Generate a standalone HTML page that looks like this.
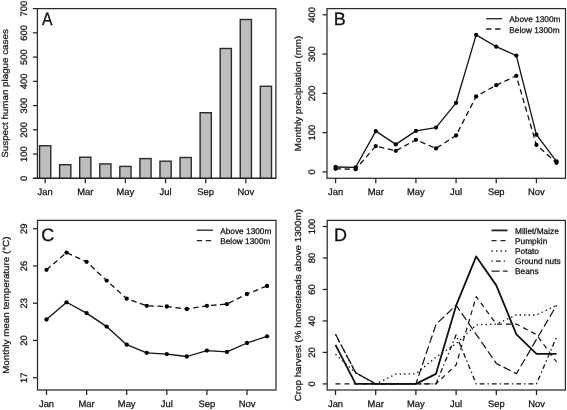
<!DOCTYPE html>
<html><head><meta charset="utf-8"><style>
html,body{margin:0;padding:0;background:#fff;}
body{width:567px;height:410px;overflow:hidden;}
svg{display:block;font-family:"Liberation Sans", sans-serif;text-rendering:geometricPrecision;will-change:transform;}
</style></head><body>
<svg width="567" height="410" viewBox="0 0 567 410">
<rect width="567" height="410" fill="#fff"/>
<rect x="37.40" y="8.60" width="238.50" height="169.70" fill="none" stroke="#2a2a2a" stroke-width="1.25"/>
<line x1="32.90" y1="178.30" x2="37.40" y2="178.30" stroke="#222" stroke-width="1.25"/>
<text x="26.70" y="178.30" font-size="9.4" text-anchor="middle" fill="#111" stroke="#111" stroke-width="0.25" transform="rotate(-90 26.70 178.30)">0</text>
<line x1="32.90" y1="154.06" x2="37.40" y2="154.06" stroke="#222" stroke-width="1.25"/>
<text x="26.70" y="154.06" font-size="9.4" text-anchor="middle" fill="#111" stroke="#111" stroke-width="0.25" transform="rotate(-90 26.70 154.06)">100</text>
<line x1="32.90" y1="129.81" x2="37.40" y2="129.81" stroke="#222" stroke-width="1.25"/>
<text x="26.70" y="129.81" font-size="9.4" text-anchor="middle" fill="#111" stroke="#111" stroke-width="0.25" transform="rotate(-90 26.70 129.81)">200</text>
<line x1="32.90" y1="105.57" x2="37.40" y2="105.57" stroke="#222" stroke-width="1.25"/>
<text x="26.70" y="105.57" font-size="9.4" text-anchor="middle" fill="#111" stroke="#111" stroke-width="0.25" transform="rotate(-90 26.70 105.57)">300</text>
<line x1="32.90" y1="81.33" x2="37.40" y2="81.33" stroke="#222" stroke-width="1.25"/>
<text x="26.70" y="81.33" font-size="9.4" text-anchor="middle" fill="#111" stroke="#111" stroke-width="0.25" transform="rotate(-90 26.70 81.33)">400</text>
<line x1="32.90" y1="57.09" x2="37.40" y2="57.09" stroke="#222" stroke-width="1.25"/>
<text x="26.70" y="57.09" font-size="9.4" text-anchor="middle" fill="#111" stroke="#111" stroke-width="0.25" transform="rotate(-90 26.70 57.09)">500</text>
<line x1="32.90" y1="32.84" x2="37.40" y2="32.84" stroke="#222" stroke-width="1.25"/>
<text x="26.70" y="32.84" font-size="9.4" text-anchor="middle" fill="#111" stroke="#111" stroke-width="0.25" transform="rotate(-90 26.70 32.84)">600</text>
<line x1="32.90" y1="8.60" x2="37.40" y2="8.60" stroke="#222" stroke-width="1.25"/>
<text x="26.70" y="8.60" font-size="9.4" text-anchor="middle" fill="#111" stroke="#111" stroke-width="0.25" transform="rotate(-90 26.70 8.60)">700</text>
<rect x="39.55" y="145.70" width="11.2" height="32.60" fill="#bebebe" stroke="#2a2a2a" stroke-width="1.4"/>
<rect x="59.62" y="164.70" width="11.2" height="13.60" fill="#bebebe" stroke="#2a2a2a" stroke-width="1.4"/>
<rect x="79.69" y="157.20" width="11.2" height="21.10" fill="#bebebe" stroke="#2a2a2a" stroke-width="1.4"/>
<rect x="99.76" y="163.90" width="11.2" height="14.40" fill="#bebebe" stroke="#2a2a2a" stroke-width="1.4"/>
<rect x="119.83" y="166.40" width="11.2" height="11.90" fill="#bebebe" stroke="#2a2a2a" stroke-width="1.4"/>
<rect x="139.90" y="158.60" width="11.2" height="19.70" fill="#bebebe" stroke="#2a2a2a" stroke-width="1.4"/>
<rect x="159.97" y="161.20" width="11.2" height="17.10" fill="#bebebe" stroke="#2a2a2a" stroke-width="1.4"/>
<rect x="180.04" y="157.50" width="11.2" height="20.80" fill="#bebebe" stroke="#2a2a2a" stroke-width="1.4"/>
<rect x="200.11" y="112.70" width="11.2" height="65.60" fill="#bebebe" stroke="#2a2a2a" stroke-width="1.4"/>
<rect x="220.18" y="48.50" width="11.2" height="129.80" fill="#bebebe" stroke="#2a2a2a" stroke-width="1.4"/>
<rect x="240.25" y="19.50" width="11.2" height="158.80" fill="#bebebe" stroke="#2a2a2a" stroke-width="1.4"/>
<rect x="260.32" y="86.30" width="11.2" height="92.00" fill="#bebebe" stroke="#2a2a2a" stroke-width="1.4"/>
<line x1="32.90" y1="178.30" x2="275.90" y2="178.30" stroke="#222" stroke-width="1.25"/>
<line x1="45.15" y1="178.30" x2="45.15" y2="183.30" stroke="#222" stroke-width="1.25"/>
<line x1="85.29" y1="178.30" x2="85.29" y2="183.30" stroke="#222" stroke-width="1.25"/>
<line x1="125.43" y1="178.30" x2="125.43" y2="183.30" stroke="#222" stroke-width="1.25"/>
<line x1="165.57" y1="178.30" x2="165.57" y2="183.30" stroke="#222" stroke-width="1.25"/>
<line x1="205.71" y1="178.30" x2="205.71" y2="183.30" stroke="#222" stroke-width="1.25"/>
<line x1="245.85" y1="178.30" x2="245.85" y2="183.30" stroke="#222" stroke-width="1.25"/>
<text x="45.15" y="195.20" font-size="9.4" text-anchor="middle" fill="#111" stroke="#111" stroke-width="0.25">Jan</text>
<text x="85.29" y="195.20" font-size="9.4" text-anchor="middle" fill="#111" stroke="#111" stroke-width="0.25">Mar</text>
<text x="125.43" y="195.20" font-size="9.4" text-anchor="middle" fill="#111" stroke="#111" stroke-width="0.25">May</text>
<text x="165.57" y="195.20" font-size="9.4" text-anchor="middle" fill="#111" stroke="#111" stroke-width="0.25">Jul</text>
<text x="205.71" y="195.20" font-size="9.4" text-anchor="middle" fill="#111" stroke="#111" stroke-width="0.25">Sep</text>
<text x="245.85" y="195.20" font-size="9.4" text-anchor="middle" fill="#111" stroke="#111" stroke-width="0.25">Nov</text>
<text x="0.00" y="0.00" font-size="9.8" text-anchor="middle" fill="#111" stroke="#111" stroke-width="0.25" transform="translate(7.80 93.45) rotate(-90) scale(1 0.9)">Suspect human plague cases</text>
<text x="0" y="0" font-size="18" fill="#111" stroke="#111" stroke-width="0.3" transform="translate(41.9 25.0) scale(0.87 1)">A</text>
<rect x="327.00" y="8.60" width="238.50" height="169.70" fill="none" stroke="#2a2a2a" stroke-width="1.25"/>
<line x1="322.50" y1="171.90" x2="327.00" y2="171.90" stroke="#222" stroke-width="1.25"/>
<text x="315.40" y="171.90" font-size="9.4" text-anchor="middle" fill="#111" stroke="#111" stroke-width="0.25" transform="rotate(-90 315.40 171.90)">0</text>
<line x1="322.50" y1="132.62" x2="327.00" y2="132.62" stroke="#222" stroke-width="1.25"/>
<text x="315.40" y="132.62" font-size="9.4" text-anchor="middle" fill="#111" stroke="#111" stroke-width="0.25" transform="rotate(-90 315.40 132.62)">100</text>
<line x1="322.50" y1="93.35" x2="327.00" y2="93.35" stroke="#222" stroke-width="1.25"/>
<text x="315.40" y="93.35" font-size="9.4" text-anchor="middle" fill="#111" stroke="#111" stroke-width="0.25" transform="rotate(-90 315.40 93.35)">200</text>
<line x1="322.50" y1="54.08" x2="327.00" y2="54.08" stroke="#222" stroke-width="1.25"/>
<text x="315.40" y="54.08" font-size="9.4" text-anchor="middle" fill="#111" stroke="#111" stroke-width="0.25" transform="rotate(-90 315.40 54.08)">300</text>
<line x1="322.50" y1="14.80" x2="327.00" y2="14.80" stroke="#222" stroke-width="1.25"/>
<text x="315.40" y="14.80" font-size="9.4" text-anchor="middle" fill="#111" stroke="#111" stroke-width="0.25" transform="rotate(-90 315.40 14.80)">400</text>
<line x1="335.60" y1="178.30" x2="335.60" y2="183.30" stroke="#222" stroke-width="1.25"/>
<line x1="375.76" y1="178.30" x2="375.76" y2="183.30" stroke="#222" stroke-width="1.25"/>
<line x1="415.92" y1="178.30" x2="415.92" y2="183.30" stroke="#222" stroke-width="1.25"/>
<line x1="456.08" y1="178.30" x2="456.08" y2="183.30" stroke="#222" stroke-width="1.25"/>
<line x1="496.24" y1="178.30" x2="496.24" y2="183.30" stroke="#222" stroke-width="1.25"/>
<line x1="536.40" y1="178.30" x2="536.40" y2="183.30" stroke="#222" stroke-width="1.25"/>
<text x="335.60" y="195.20" font-size="9.4" text-anchor="middle" fill="#111" stroke="#111" stroke-width="0.25">Jan</text>
<text x="375.76" y="195.20" font-size="9.4" text-anchor="middle" fill="#111" stroke="#111" stroke-width="0.25">Mar</text>
<text x="415.92" y="195.20" font-size="9.4" text-anchor="middle" fill="#111" stroke="#111" stroke-width="0.25">May</text>
<text x="456.08" y="195.20" font-size="9.4" text-anchor="middle" fill="#111" stroke="#111" stroke-width="0.25">Jul</text>
<text x="496.24" y="195.20" font-size="9.4" text-anchor="middle" fill="#111" stroke="#111" stroke-width="0.25">Sep</text>
<text x="536.40" y="195.20" font-size="9.4" text-anchor="middle" fill="#111" stroke="#111" stroke-width="0.25">Nov</text>
<polyline points="335.60,167.00 355.68,167.30 375.76,131.10 395.84,144.40 415.92,130.90 436.00,127.60 456.08,102.80 476.16,34.90 496.24,46.70 516.32,55.60 536.40,134.70 556.48,161.30" fill="none" stroke="#111" stroke-width="1.3" stroke-linejoin="round" stroke-linecap="butt"/>
<polyline points="335.60,168.80 355.68,169.20 375.76,146.10 395.84,150.80 415.92,139.80 436.00,148.40 456.08,135.50 476.16,96.40 496.24,85.20 516.32,75.80 536.40,144.90 556.48,162.80" fill="none" stroke="#111" stroke-width="1.3" stroke-linejoin="round" stroke-linecap="butt" stroke-dasharray="5.4,3.6"/>
<circle cx="335.60" cy="167.00" r="2.15" fill="#000"/>
<circle cx="355.68" cy="167.30" r="2.15" fill="#000"/>
<circle cx="375.76" cy="131.10" r="2.15" fill="#000"/>
<circle cx="395.84" cy="144.40" r="2.15" fill="#000"/>
<circle cx="415.92" cy="130.90" r="2.15" fill="#000"/>
<circle cx="436.00" cy="127.60" r="2.15" fill="#000"/>
<circle cx="456.08" cy="102.80" r="2.15" fill="#000"/>
<circle cx="476.16" cy="34.90" r="2.15" fill="#000"/>
<circle cx="496.24" cy="46.70" r="2.15" fill="#000"/>
<circle cx="516.32" cy="55.60" r="2.15" fill="#000"/>
<circle cx="536.40" cy="134.70" r="2.15" fill="#000"/>
<circle cx="556.48" cy="161.30" r="2.15" fill="#000"/>
<circle cx="335.60" cy="168.80" r="2.15" fill="#000"/>
<circle cx="355.68" cy="169.20" r="2.15" fill="#000"/>
<circle cx="375.76" cy="146.10" r="2.15" fill="#000"/>
<circle cx="395.84" cy="150.80" r="2.15" fill="#000"/>
<circle cx="415.92" cy="139.80" r="2.15" fill="#000"/>
<circle cx="436.00" cy="148.40" r="2.15" fill="#000"/>
<circle cx="456.08" cy="135.50" r="2.15" fill="#000"/>
<circle cx="476.16" cy="96.40" r="2.15" fill="#000"/>
<circle cx="496.24" cy="85.20" r="2.15" fill="#000"/>
<circle cx="516.32" cy="75.80" r="2.15" fill="#000"/>
<circle cx="536.40" cy="144.90" r="2.15" fill="#000"/>
<circle cx="556.48" cy="162.80" r="2.15" fill="#000"/>
<text x="0.00" y="0.00" font-size="9.8" text-anchor="middle" fill="#111" stroke="#111" stroke-width="0.25" transform="translate(301.30 93.45) rotate(-90) scale(1 0.9)">Monthly precipitation (mm)</text>
<text x="333.80" y="25.00" font-size="18" fill="#111" stroke="#111" stroke-width="0.3">B</text>
<line x1="486.10" y1="18.70" x2="502.20" y2="18.70" stroke="#222" stroke-width="1.3"/>
<line x1="486.10" y1="29.00" x2="502.20" y2="29.00" stroke="#222" stroke-width="1.3" stroke-dasharray="5.4,3.6"/>
<text x="509.30" y="22.10" font-size="8.3" text-anchor="start" fill="#111" stroke="#111" stroke-width="0.25">Above 1300m</text>
<text x="509.30" y="32.60" font-size="8.3" text-anchor="start" fill="#111" stroke="#111" stroke-width="0.25">Below 1300m</text>
<rect x="37.50" y="220.40" width="238.50" height="169.60" fill="none" stroke="#2a2a2a" stroke-width="1.25"/>
<line x1="33.00" y1="377.70" x2="37.50" y2="377.70" stroke="#222" stroke-width="1.25"/>
<text x="26.70" y="377.70" font-size="9.4" text-anchor="middle" fill="#111" stroke="#111" stroke-width="0.25" transform="rotate(-90 26.70 377.70)">17</text>
<line x1="33.00" y1="340.45" x2="37.50" y2="340.45" stroke="#222" stroke-width="1.25"/>
<text x="26.70" y="340.45" font-size="9.4" text-anchor="middle" fill="#111" stroke="#111" stroke-width="0.25" transform="rotate(-90 26.70 340.45)">20</text>
<line x1="33.00" y1="303.20" x2="37.50" y2="303.20" stroke="#222" stroke-width="1.25"/>
<text x="26.70" y="303.20" font-size="9.4" text-anchor="middle" fill="#111" stroke="#111" stroke-width="0.25" transform="rotate(-90 26.70 303.20)">23</text>
<line x1="33.00" y1="265.95" x2="37.50" y2="265.95" stroke="#222" stroke-width="1.25"/>
<text x="26.70" y="265.95" font-size="9.4" text-anchor="middle" fill="#111" stroke="#111" stroke-width="0.25" transform="rotate(-90 26.70 265.95)">26</text>
<line x1="33.00" y1="228.70" x2="37.50" y2="228.70" stroke="#222" stroke-width="1.25"/>
<text x="26.70" y="228.70" font-size="9.4" text-anchor="middle" fill="#111" stroke="#111" stroke-width="0.25" transform="rotate(-90 26.70 228.70)">29</text>
<line x1="46.50" y1="390.00" x2="46.50" y2="395.00" stroke="#222" stroke-width="1.25"/>
<line x1="86.60" y1="390.00" x2="86.60" y2="395.00" stroke="#222" stroke-width="1.25"/>
<line x1="126.70" y1="390.00" x2="126.70" y2="395.00" stroke="#222" stroke-width="1.25"/>
<line x1="166.80" y1="390.00" x2="166.80" y2="395.00" stroke="#222" stroke-width="1.25"/>
<line x1="206.90" y1="390.00" x2="206.90" y2="395.00" stroke="#222" stroke-width="1.25"/>
<line x1="247.00" y1="390.00" x2="247.00" y2="395.00" stroke="#222" stroke-width="1.25"/>
<text x="46.50" y="407.00" font-size="9.4" text-anchor="middle" fill="#111" stroke="#111" stroke-width="0.25">Jan</text>
<text x="86.60" y="407.00" font-size="9.4" text-anchor="middle" fill="#111" stroke="#111" stroke-width="0.25">Mar</text>
<text x="126.70" y="407.00" font-size="9.4" text-anchor="middle" fill="#111" stroke="#111" stroke-width="0.25">May</text>
<text x="166.80" y="407.00" font-size="9.4" text-anchor="middle" fill="#111" stroke="#111" stroke-width="0.25">Jul</text>
<text x="206.90" y="407.00" font-size="9.4" text-anchor="middle" fill="#111" stroke="#111" stroke-width="0.25">Sep</text>
<text x="247.00" y="407.00" font-size="9.4" text-anchor="middle" fill="#111" stroke="#111" stroke-width="0.25">Nov</text>
<polyline points="46.50,319.50 66.55,302.30 86.60,313.10 106.65,326.60 126.70,344.70 146.75,352.80 166.80,354.10 186.85,356.50 206.90,350.60 226.95,351.90 247.00,343.00 267.05,336.30" fill="none" stroke="#111" stroke-width="1.3" stroke-linejoin="round" stroke-linecap="butt"/>
<polyline points="46.50,269.80 66.55,252.60 86.60,261.80 106.65,280.60 126.70,298.70 146.75,305.80 166.80,306.50 186.85,309.00 206.90,305.80 226.95,304.10 247.00,294.00 267.05,286.00" fill="none" stroke="#111" stroke-width="1.3" stroke-linejoin="round" stroke-linecap="butt" stroke-dasharray="5.4,3.6"/>
<circle cx="46.50" cy="319.50" r="2.15" fill="#000"/>
<circle cx="66.55" cy="302.30" r="2.15" fill="#000"/>
<circle cx="86.60" cy="313.10" r="2.15" fill="#000"/>
<circle cx="106.65" cy="326.60" r="2.15" fill="#000"/>
<circle cx="126.70" cy="344.70" r="2.15" fill="#000"/>
<circle cx="146.75" cy="352.80" r="2.15" fill="#000"/>
<circle cx="166.80" cy="354.10" r="2.15" fill="#000"/>
<circle cx="186.85" cy="356.50" r="2.15" fill="#000"/>
<circle cx="206.90" cy="350.60" r="2.15" fill="#000"/>
<circle cx="226.95" cy="351.90" r="2.15" fill="#000"/>
<circle cx="247.00" cy="343.00" r="2.15" fill="#000"/>
<circle cx="267.05" cy="336.30" r="2.15" fill="#000"/>
<circle cx="46.50" cy="269.80" r="2.15" fill="#000"/>
<circle cx="66.55" cy="252.60" r="2.15" fill="#000"/>
<circle cx="86.60" cy="261.80" r="2.15" fill="#000"/>
<circle cx="106.65" cy="280.60" r="2.15" fill="#000"/>
<circle cx="126.70" cy="298.70" r="2.15" fill="#000"/>
<circle cx="146.75" cy="305.80" r="2.15" fill="#000"/>
<circle cx="166.80" cy="306.50" r="2.15" fill="#000"/>
<circle cx="186.85" cy="309.00" r="2.15" fill="#000"/>
<circle cx="206.90" cy="305.80" r="2.15" fill="#000"/>
<circle cx="226.95" cy="304.10" r="2.15" fill="#000"/>
<circle cx="247.00" cy="294.00" r="2.15" fill="#000"/>
<circle cx="267.05" cy="286.00" r="2.15" fill="#000"/>
<text x="0.00" y="0.00" font-size="9.8" text-anchor="middle" fill="#111" stroke="#111" stroke-width="0.25" transform="translate(8.70 305.20) rotate(-90) scale(1 0.9)">Monthly mean temperature (°C)</text>
<text x="41.30" y="241.20" font-size="18" fill="#111" stroke="#111" stroke-width="0.3">C</text>
<line x1="196.70" y1="230.20" x2="213.00" y2="230.20" stroke="#222" stroke-width="1.3"/>
<line x1="196.70" y1="240.70" x2="213.00" y2="240.70" stroke="#222" stroke-width="1.3" stroke-dasharray="5.4,3.6"/>
<text x="220.20" y="233.90" font-size="8.3" text-anchor="start" fill="#111" stroke="#111" stroke-width="0.25">Above 1300m</text>
<text x="220.20" y="244.20" font-size="8.3" text-anchor="start" fill="#111" stroke="#111" stroke-width="0.25">Below 1300m</text>
<rect x="327.20" y="220.40" width="238.20" height="169.60" fill="none" stroke="#2a2a2a" stroke-width="1.25"/>
<line x1="322.70" y1="383.90" x2="327.20" y2="383.90" stroke="#222" stroke-width="1.25"/>
<text x="315.40" y="383.90" font-size="9.4" text-anchor="middle" fill="#111" stroke="#111" stroke-width="0.25" transform="rotate(-90 315.40 383.90)">0</text>
<line x1="322.70" y1="352.42" x2="327.20" y2="352.42" stroke="#222" stroke-width="1.25"/>
<text x="315.40" y="352.42" font-size="9.4" text-anchor="middle" fill="#111" stroke="#111" stroke-width="0.25" transform="rotate(-90 315.40 352.42)">20</text>
<line x1="322.70" y1="320.94" x2="327.20" y2="320.94" stroke="#222" stroke-width="1.25"/>
<text x="315.40" y="320.94" font-size="9.4" text-anchor="middle" fill="#111" stroke="#111" stroke-width="0.25" transform="rotate(-90 315.40 320.94)">40</text>
<line x1="322.70" y1="289.46" x2="327.20" y2="289.46" stroke="#222" stroke-width="1.25"/>
<text x="315.40" y="289.46" font-size="9.4" text-anchor="middle" fill="#111" stroke="#111" stroke-width="0.25" transform="rotate(-90 315.40 289.46)">60</text>
<line x1="322.70" y1="257.98" x2="327.20" y2="257.98" stroke="#222" stroke-width="1.25"/>
<text x="315.40" y="257.98" font-size="9.4" text-anchor="middle" fill="#111" stroke="#111" stroke-width="0.25" transform="rotate(-90 315.40 257.98)">80</text>
<line x1="322.70" y1="226.50" x2="327.20" y2="226.50" stroke="#222" stroke-width="1.25"/>
<text x="315.40" y="226.50" font-size="9.4" text-anchor="middle" fill="#111" stroke="#111" stroke-width="0.25" transform="rotate(-90 315.40 226.50)">100</text>
<line x1="335.50" y1="390.00" x2="335.50" y2="395.00" stroke="#222" stroke-width="1.25"/>
<line x1="375.70" y1="390.00" x2="375.70" y2="395.00" stroke="#222" stroke-width="1.25"/>
<line x1="415.90" y1="390.00" x2="415.90" y2="395.00" stroke="#222" stroke-width="1.25"/>
<line x1="456.10" y1="390.00" x2="456.10" y2="395.00" stroke="#222" stroke-width="1.25"/>
<line x1="496.30" y1="390.00" x2="496.30" y2="395.00" stroke="#222" stroke-width="1.25"/>
<line x1="536.50" y1="390.00" x2="536.50" y2="395.00" stroke="#222" stroke-width="1.25"/>
<text x="335.50" y="407.00" font-size="9.4" text-anchor="middle" fill="#111" stroke="#111" stroke-width="0.25">Jan</text>
<text x="375.70" y="407.00" font-size="9.4" text-anchor="middle" fill="#111" stroke="#111" stroke-width="0.25">Mar</text>
<text x="415.90" y="407.00" font-size="9.4" text-anchor="middle" fill="#111" stroke="#111" stroke-width="0.25">May</text>
<text x="456.10" y="407.00" font-size="9.4" text-anchor="middle" fill="#111" stroke="#111" stroke-width="0.25">Jul</text>
<text x="496.30" y="407.00" font-size="9.4" text-anchor="middle" fill="#111" stroke="#111" stroke-width="0.25">Sep</text>
<text x="536.50" y="407.00" font-size="9.4" text-anchor="middle" fill="#111" stroke="#111" stroke-width="0.25">Nov</text>
<polyline points="335.50,383.90 355.60,383.90 375.70,383.90 395.80,383.90 415.90,383.90 436.00,383.90 456.10,365.01 476.20,296.70 496.30,324.09 516.40,324.09 536.50,334.63 556.60,362.02" fill="none" stroke="#111" stroke-width="1.2" stroke-linejoin="round" stroke-linecap="butt" stroke-dasharray="5.0,4.0"/>
<polyline points="335.50,354.31 355.60,372.88 375.70,383.90 395.80,374.14 415.90,373.83 436.00,357.14 456.10,343.76 476.20,324.88 496.30,324.09 516.40,314.96 536.50,314.96 556.60,305.20" fill="none" stroke="#111" stroke-width="1.35" stroke-linejoin="round" stroke-linecap="butt" stroke-dasharray="1.4,3.1"/>
<polyline points="335.50,334.32 355.60,372.57 375.70,383.90 395.80,383.90 415.90,383.90 436.00,383.90 456.10,334.79 476.20,383.90 496.30,383.90 516.40,383.90 536.50,383.90 556.60,336.84" fill="none" stroke="#111" stroke-width="1.3" stroke-linejoin="round" stroke-linecap="butt" stroke-dasharray="1.4,3.0,4.8,3.0"/>
<polyline points="335.50,334.32 355.60,372.57 375.70,383.90 395.80,383.90 415.90,383.90 436.00,324.40 456.10,305.20 476.20,334.32 496.30,363.44 516.40,373.67 536.50,339.36 556.60,305.20" fill="none" stroke="#111" stroke-width="1.2" stroke-linejoin="round" stroke-linecap="butt" stroke-dasharray="8.1,3.4"/>
<polyline points="335.50,344.86 355.60,383.90 375.70,383.90 395.80,383.90 415.90,383.90 436.00,373.83 456.10,305.67 476.20,256.41 496.30,285.37 516.40,334.32 536.50,353.84 556.60,353.84" fill="none" stroke="#111" stroke-width="1.8" stroke-linejoin="round" stroke-linecap="butt"/>
<text x="0.00" y="0.00" font-size="9.8" text-anchor="middle" fill="#111" stroke="#111" stroke-width="0.25" transform="translate(301.40 305.20) rotate(-90) scale(1 0.9)">Crop harvest (% homesteads above 1300m)</text>
<text x="333.90" y="241.20" font-size="18" fill="#111" stroke="#111" stroke-width="0.3">D</text>
<line x1="491.50" y1="230.40" x2="507.60" y2="230.40" stroke="#222" stroke-width="1.8"/>
<text x="515.00" y="233.60" font-size="8.3" text-anchor="start" fill="#111" stroke="#111" stroke-width="0.25">Millet/Maize</text>
<line x1="491.50" y1="240.70" x2="507.60" y2="240.70" stroke="#222" stroke-width="1.2" stroke-dasharray="5.0,4.0"/>
<text x="515.00" y="243.90" font-size="8.3" text-anchor="start" fill="#111" stroke="#111" stroke-width="0.25">Pumpkin</text>
<line x1="491.50" y1="251.00" x2="507.60" y2="251.00" stroke="#222" stroke-width="1.35" stroke-dasharray="1.4,3.1"/>
<text x="515.00" y="254.20" font-size="8.3" text-anchor="start" fill="#111" stroke="#111" stroke-width="0.25">Potato</text>
<line x1="491.50" y1="261.10" x2="507.60" y2="261.10" stroke="#222" stroke-width="1.3" stroke-dasharray="1.4,3.0,4.8,3.0"/>
<text x="515.00" y="264.30" font-size="8.3" text-anchor="start" fill="#111" stroke="#111" stroke-width="0.25">Ground nuts</text>
<line x1="491.50" y1="271.10" x2="507.60" y2="271.10" stroke="#222" stroke-width="1.2" stroke-dasharray="8.1,3.4"/>
<text x="515.00" y="274.30" font-size="8.3" text-anchor="start" fill="#111" stroke="#111" stroke-width="0.25">Beans</text>
</svg>
</body></html>
